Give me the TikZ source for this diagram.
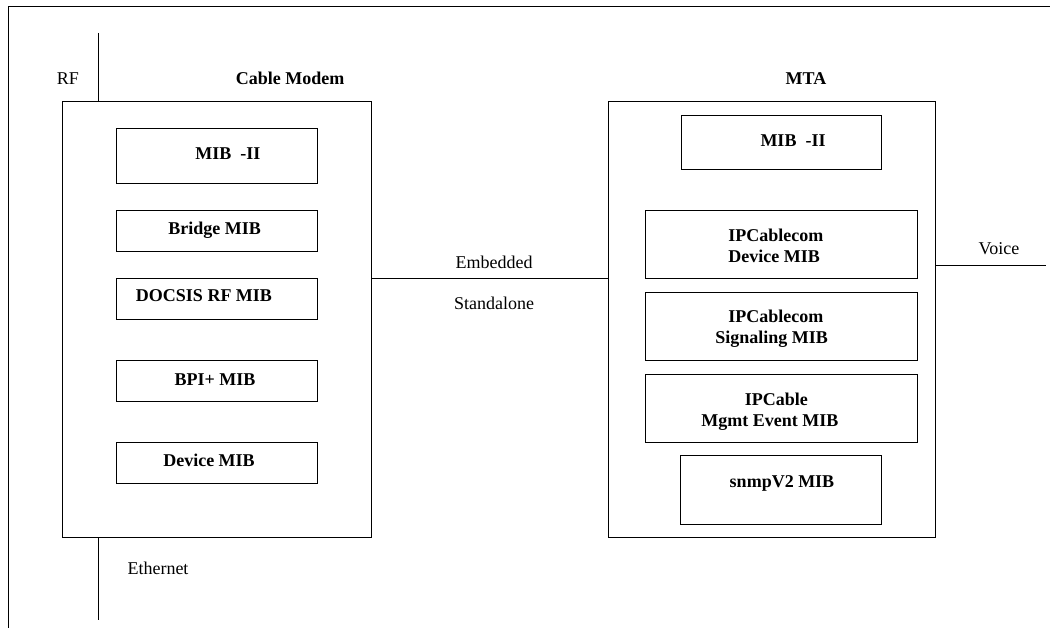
\documentclass[tikz,border=0pt]{standalone}
\usepackage{fontspec}
\setmainfont{Liberation Serif}
\begin{document}
\begin{tikzpicture}[x=1pt,y=-1pt,line width=0.9pt,
  box/.style={draw,rectangle,inner sep=0pt,outer sep=0pt},
  bt/.style={font=\fontsize{18}{21}\selectfont\bfseries,inner sep=0pt,anchor=base},
  bw/.style={bt,anchor=base west},
  rt/.style={font=\fontsize{18}{21}\selectfont,inner sep=0pt,anchor=base}]
\useasboundingbox (0,0) rectangle (1050,628);
% outer frame (top and left edges)
\draw (1050,6) -- (8,6) -- (8,628);

% Cable Modem
\node[box,minimum width=309pt,minimum height=436pt] (cm) at (216.5,319) {};
\node[box,minimum width=200.5pt,minimum height=55pt] (cm1) at (216.75,155.5) {};
\node[box,minimum width=200.5pt,minimum height=41pt] (cm2) at (216.75,230.5) {};
\node[box,minimum width=200.5pt,minimum height=41pt] (cm3) at (216.75,298.5) {};
\node[box,minimum width=200.5pt,minimum height=41pt] (cm4) at (216.75,380.5) {};
\node[box,minimum width=200.5pt,minimum height=41pt] (cm5) at (216.75,462.5) {};
\node[bt] (cmlbl) at (290,85) {Cable Modem};
\node[bt] (t1) at (228,160) {MIB\ \ -II};
\node[bt] (t2) at (214.7,234.3) {Bridge MIB};
\node[bt] (t3) at (204,301.7) {DOCSIS RF MIB};
\node[bt] (t4) at (215,385) {BPI+ MIB};
\node[bt] (t5) at (209,466.7) {Device MIB};

% MTA
\node[box,minimum width=327pt,minimum height=436pt] (mta) at (771.5,319) {};
\node[box,minimum width=200pt,minimum height=54pt] (m1) at (781,142) {};
\node[box,minimum width=272pt,minimum height=68pt] (m2) at (781,244) {};
\node[box,minimum width=272pt,minimum height=68pt] (m3) at (781,326) {};
\node[box,minimum width=272pt,minimum height=68pt] (m4) at (781,408) {};
\node[box,minimum width=201pt,minimum height=69pt] (m5) at (780.5,489.5) {};
\node[bt] (mtalbl) at (806,85) {MTA};
\node[bt] (u1) at (793,147) {MIB\ \ -II};
\node[bw] (u2a) at (728,241.3) {IPCablecom};
\node[bw] (u2b) at (728,262.3) {Device MIB};
\node[bw] (u3a) at (728,322.7) {IPCablecom};
\node[bw] (u3b) at (715,343.7) {Signaling MIB};
\node[bw] (u4a) at (744.5,405) {IPCable};
\node[bw] (u4b) at (701,426) {Mgmt Event MIB};
\node[bt] (u5) at (782,487.3) {snmpV2 MIB};

% connectors
\coordinate (rftop) at (98.5,33);
\coordinate (ethbot) at (98.5,620);
\draw (rftop) -- (rftop |- cm.north);
\draw (ethbot |- cm.south) -- (ethbot);
\coordinate (linky) at (0,278);
\draw (cm.east |- linky) -- (mta.west |- linky);
\coordinate (voiceend) at (1046,265);
\draw (mta.east |- voiceend) -- (voiceend);

% labels
\node[rt] (rf) at (68,85) {RF};
\node[rt] (eth) at (158,574) {Ethernet};
\node[rt] (emb) at (494,268.3) {Embedded};
\node[rt] (sta) at (494,309.3) {Standalone};
\node[rt] (voice) at (999,255) {Voice};
\end{tikzpicture}
\end{document}
